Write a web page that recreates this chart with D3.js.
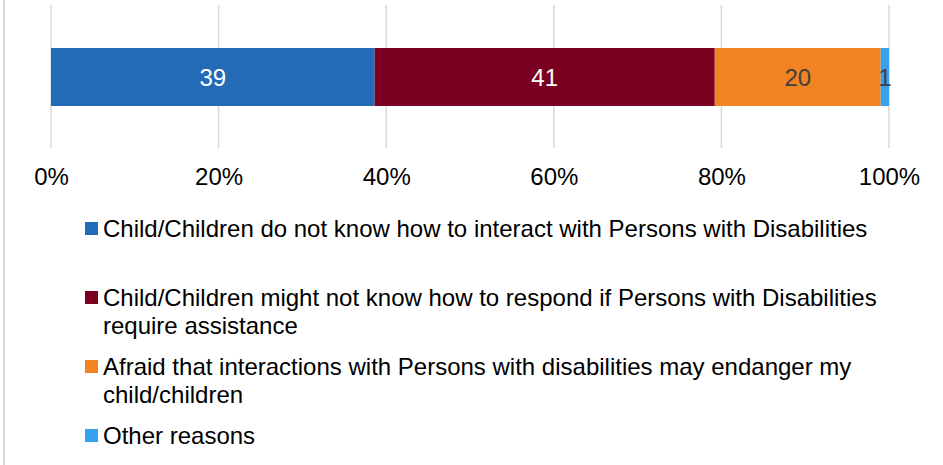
<!DOCTYPE html>
<html>
<head>
<meta charset="utf-8">
<script src="https://cdn.jsdelivr.net/npm/d3@7"></script>
<style>
  html, body { margin: 0; padding: 0; background: #fff; }
  svg { display: block; font-family: "Liberation Sans", Arial, sans-serif; }
</style>
</head>
<body>
<svg id="chart" width="943" height="465"></svg>
<script>
// Reasons given (percent of respondents), one stacked 100% bar
const reasons = [
  "Child/Children do not know how to interact with Persons with Disabilities",
  "Child/Children might not know how to respond if Persons with Disabilities require assistance",
  "Afraid that interactions with Persons with disabilities may endanger my child/children",
  "Other reasons"
];
const values = [39, 41, 20, 1];
const colors = ["#236ab7", "#7a0021", "#f28322", "#38a1ee"];
const labelColors = ["#ffffff", "#ffffff", "#404040", "#404040"];
const tickValues = [0, 0.2, 0.4, 0.6, 0.8, 1];

const W = 943, H = 465;
const FONT = 24;
const svg = d3.select("#chart");

// Frame line on the left edge
svg.append("line")
  .attr("x1", 4).attr("x2", 4).attr("y1", 0).attr("y2", H)
  .attr("stroke", "#d9d9d9").attr("stroke-width", 2);

const x = d3.scaleLinear().domain([0, 1]).range([51, 889]);
const barTop = 48, barBottom = 106;

// Gridlines
svg.append("g").selectAll("line")
  .data(tickValues)
  .join("line")
  .attr("x1", d => x(d)).attr("x2", d => x(d))
  .attr("y1", 5).attr("y2", 148)
  .attr("stroke", "#d9d9d9").attr("stroke-width", 1.5);

// Axis tick labels
const axis = d3.axisBottom(x).tickValues(tickValues)
  .tickFormat(d3.format(".0%")).tickSize(0).tickPadding(0);
const axisG = svg.append("g").attr("transform", "translate(0,168)").call(axis);
axisG.select(".domain").remove();
axisG.selectAll("text")
  .attr("font-family", "Liberation Sans, Arial, sans-serif")
  .attr("font-size", FONT).attr("fill", "#000").attr("dy", "0.71em");

// Stacked bar, normalized to 100%
const row = {};
reasons.forEach((r, i) => row["k" + i] = values[i]);
const keys = reasons.map((r, i) => "k" + i);
const stacked = d3.stack().keys(keys).offset(d3.stackOffsetExpand)([row]);

const segs = svg.append("g").selectAll("g")
  .data(stacked)
  .join("g");

segs.append("rect")
  .attr("x", d => x(d[0][0]))
  .attr("width", d => x(d[0][1]) - x(d[0][0]))
  .attr("y", barTop)
  .attr("height", barBottom - barTop)
  .attr("fill", (d, i) => colors[i]);

segs.append("text")
  .attr("x", d => (x(d[0][0]) + x(d[0][1])) / 2)
  .attr("y", (barTop + barBottom) / 2)
  .attr("dy", "0.36em")
  .attr("text-anchor", "middle")
  .attr("font-size", FONT)
  .attr("fill", (d, i) => labelColors[i])
  .text((d, i) => values[i]);

// Legend
const legend = svg.append("g");
const maxTextWidth = 785;
reasons.forEach((label, i) => {
  const baseY = 237 + 69 * i;
  const g = legend.append("g");
  g.append("rect")
    .attr("x", 85).attr("y", baseY - 15)
    .attr("width", 13).attr("height", 13)
    .attr("fill", colors[i]);
  const t = g.append("text")
    .attr("x", 103).attr("y", baseY)
    .attr("font-size", FONT).attr("fill", "#000");
  // wrap words to the available width
  const words = label.split(" ");
  let line = [];
  let lineNo = 0;
  let tspan = t.append("tspan").attr("x", 103).attr("y", baseY);
  words.forEach(w => {
    line.push(w);
    tspan.text(line.join(" "));
    if (tspan.node().getComputedTextLength() > maxTextWidth && line.length > 1) {
      line.pop();
      tspan.text(line.join(" "));
      line = [w];
      lineNo++;
      tspan = t.append("tspan").attr("x", 103).attr("y", baseY + 28 * lineNo).text(w);
    }
  });
});
</script>
</body>
</html>
